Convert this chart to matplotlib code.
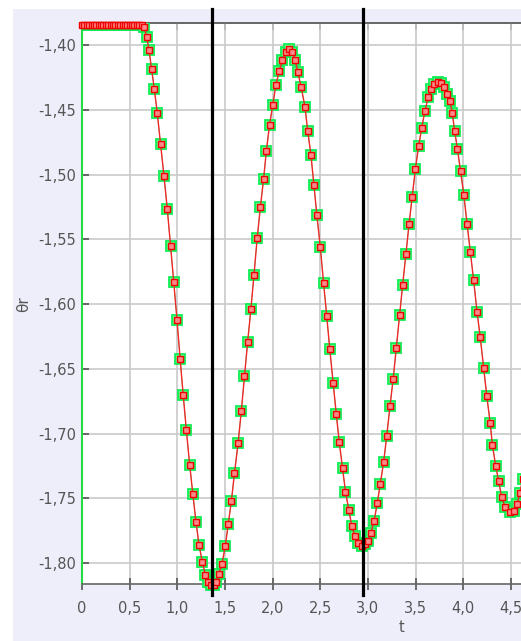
import matplotlib
matplotlib.use('Agg')
import matplotlib.pyplot as plt
from matplotlib.ticker import FuncFormatter, MultipleLocator
from matplotlib.transforms import Bbox, TransformedBbox
from matplotlib.patches import Rectangle

# ---------------- data ----------------
t_flat = [0.000, 0.025, 0.050, 0.075, 0.100, 0.125, 0.150, 0.175, 0.200,
          0.225, 0.250, 0.275, 0.300, 0.325, 0.350, 0.375, 0.400, 0.425,
          0.450, 0.475, 0.500, 0.525, 0.550, 0.575, 0.600, 0.625]
theta_flat = [-1.3845, -1.3845, -1.3845, -1.3845, -1.3845, -1.3845, -1.3845,
              -1.3845, -1.3845, -1.3845, -1.3845, -1.3845, -1.3845, -1.3845,
              -1.3845, -1.3845, -1.3845, -1.3845, -1.3845, -1.3845, -1.3845,
              -1.3845, -1.3845, -1.3845, -1.3845, -1.3845]

t_osc = [0.651, 0.679, 0.703, 0.731, 0.759, 0.790, 0.825, 0.860, 0.895, 0.930,
         0.963, 0.997, 1.030, 1.062, 1.095, 1.130, 1.163, 1.196, 1.228, 1.262,
         1.295, 1.325, 1.355, 1.385, 1.410, 1.437, 1.468, 1.503, 1.535, 1.568,
         1.600, 1.638, 1.672, 1.705, 1.738, 1.772, 1.805, 1.838, 1.872, 1.905,
         1.935, 1.968, 2.002, 2.035, 2.070, 2.103, 2.138, 2.172, 2.207, 2.238,
         2.264, 2.300, 2.340, 2.368, 2.402, 2.434, 2.465, 2.500, 2.535, 2.568,
         2.600, 2.635, 2.668, 2.700, 2.734, 2.765, 2.800, 2.830, 2.864, 2.895,
         2.934, 2.965, 3.000, 3.032, 3.066, 3.098, 3.130, 3.165, 3.198, 3.232,
         3.265, 3.298, 3.332, 3.365, 3.398, 3.432, 3.465, 3.498, 3.532, 3.565,
         3.598, 3.632, 3.665, 3.698, 3.733, 3.766, 3.800, 3.834, 3.862, 3.885,
         3.910, 3.940, 3.972, 4.007, 4.041, 4.075, 4.110, 4.145, 4.179, 4.215,
         4.248, 4.283, 4.307, 4.341, 4.372, 4.403, 4.440, 4.490, 4.531, 4.566,
         4.593, 4.625]
theta_osc = [-1.3859, -1.3936, -1.4039, -1.4188, -1.4340, -1.4527, -1.4767,
             -1.5009, -1.5266, -1.5554, -1.5832, -1.6124, -1.6425, -1.6703,
             -1.6973, -1.7243, -1.7467, -1.7681, -1.7861, -1.7990, -1.8093,
             -1.8145, -1.8168, -1.8170, -1.8150, -1.8083, -1.8010, -1.7872,
             -1.7700, -1.7518, -1.7308, -1.7075, -1.6824, -1.6559, -1.6295,
             -1.6041, -1.5774, -1.5493, -1.5251, -1.5038, -1.4816, -1.4616,
             -1.4463, -1.4305, -1.4202, -1.4119, -1.4056, -1.4033, -1.4050,
             -1.4118, -1.4206, -1.4325, -1.4478, -1.4660, -1.4846, -1.5082,
             -1.5314, -1.5556, -1.5837, -1.6091, -1.6347, -1.6609, -1.6848,
             -1.7069, -1.7270, -1.7449, -1.7592, -1.7711, -1.7793, -1.7848,
             -1.7871, -1.7856, -1.7830, -1.7766, -1.7672, -1.7540, -1.7386,
             -1.7223, -1.7017, -1.6788, -1.6581, -1.6339, -1.6085, -1.5851,
             -1.5617, -1.5383, -1.5171, -1.4961, -1.4782, -1.4639, -1.4510,
             -1.4405, -1.4336, -1.4298, -1.4286, -1.4290, -1.4322, -1.4377,
             -1.4433, -1.4523, -1.4661, -1.4804, -1.4970, -1.5157, -1.5383,
             -1.5595, -1.5818, -1.6058, -1.6256, -1.6493, -1.6711, -1.6917,
             -1.7091, -1.7248, -1.7366, -1.7490, -1.7567, -1.7606, -1.7595,
             -1.7545, -1.7463, -1.7350]

cursor_t = [1.367, 2.945]

x_min, x_max = 0.0, 6.716
y_min, y_max = -1.8162, -1.3832
last_x_label = 4.5

# ---------------- figure ----------------
t = t_flat + t_osc
theta = theta_flat + theta_osc

W, H = 521, 641
fig = plt.figure(figsize=(W / 100, H / 100), dpi=100)
fig.patch.set_facecolor('white')
fig.patches.append(Rectangle((13 / W, 0), 1.0, (H - 9) / H,
                             transform=fig.transFigure, facecolor='#eeeefb',
                             edgecolor='none', zorder=-10))

ax = fig.add_axes([82 / W, 57 / H, 640 / W, 560.7 / H])
ax.set_facecolor('white')
ax.set_xlim(x_min, x_max)
ax.set_ylim(y_min, y_max)

ax.grid(True, color='#c9c9c9', lw=1.2)
ax.set_axisbelow(True)

green, = ax.plot(t, theta, color='#22e055', lw=0.5, marker='s', ms=7.8,
                 mfc='#66ff88', mec='#11ee55', mew=1.3, zorder=3)
green.set_clip_box(TransformedBbox(Bbox([[0, -0.05], [1, 1]]), ax.transAxes))

ax.plot(t, theta, color='#f02828', lw=1.0, marker='s', ms=4.8,
        mfc='#ff8a8a', mec='#ee0000', mew=1.0, zorder=4, clip_on=False)

for ct in cursor_t:
    ax.axvline(ct, ymin=-0.0196, ymax=1.0255, color='black', lw=2.3,
               clip_on=False, zorder=6)

for s in ['top', 'bottom']:
    ax.spines[s].set_color('#666666')
    ax.spines[s].set_linewidth(1.2)
ax.spines['left'].set_color('#22dd44')
ax.spines['left'].set_linewidth(1.5)

ax.xaxis.set_major_locator(MultipleLocator(0.5))
ax.yaxis.set_major_locator(MultipleLocator(0.05))


def fmt_x(v, p):
    if v > last_x_label + 1e-9:
        return ''
    return '0' if abs(v) < 1e-9 else ('%.1f' % v).replace('.', ',')


ax.xaxis.set_major_formatter(FuncFormatter(fmt_x))
ax.yaxis.set_major_formatter(FuncFormatter(
    lambda v, p: ('%.2f' % v).replace('.', ',')))

ax.tick_params(axis='x', direction='inout', length=8, width=1.2,
               color='#555555', labelcolor='#555555', labelsize=10.5, pad=8)
ax.tick_params(axis='y', direction='in', length=5, width=1.2,
               color='#555555', labelcolor='#555555', labelsize=10.5, pad=4)

sec = ax.secondary_xaxis('top')
sec.xaxis.set_major_locator(MultipleLocator(0.5))
sec.tick_params(direction='in', length=5, width=1.2, color='#555555',
                labeltop=False)
sec.spines['top'].set_color('#666666')
sec.spines['top'].set_linewidth(1.2)

ax.set_xlabel('t', color='#555555', fontsize=10.5, labelpad=3)
ax.set_ylabel('θr', color='#555555', fontsize=11, labelpad=5)

fig.savefig('out.png', dpi=100)
